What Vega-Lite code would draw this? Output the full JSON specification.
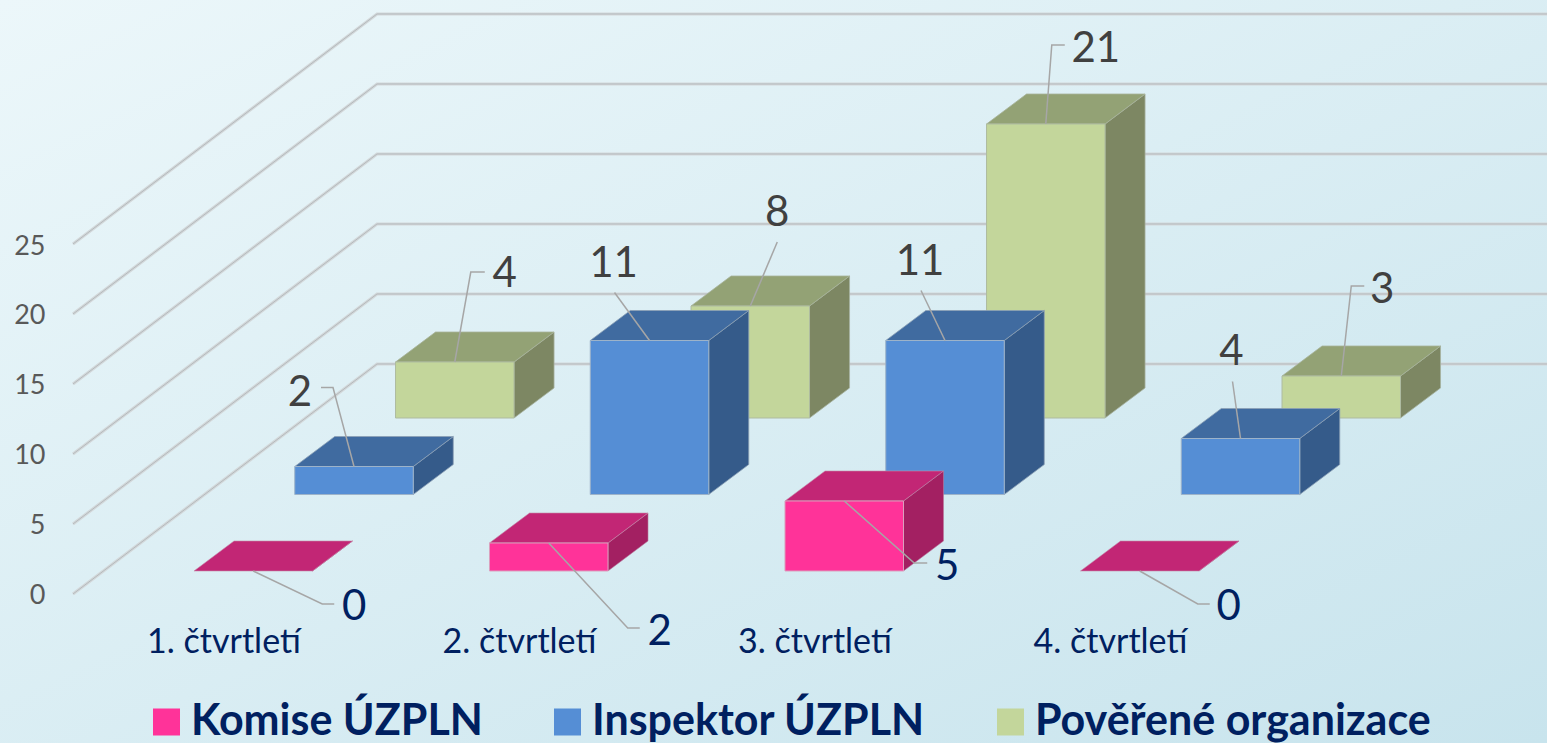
{
"$schema":"https://vega.github.io/schema/vega-lite/v6.json",
"width":1547,"height":743,"padding":0,"autosize":{"type":"none"},
"background":"#d9edf3",
"view":{"stroke":null,"fill":{"gradient":"linear","x1":0,"y1":0,"x2":1,"y2":1,"stops":[{"offset":0,"color":"#ecf7fa"},{"offset":1,"color":"#c8e4ed"}]}},
"config":{"font":"Lato"},
"data":{"values":[
{"q":1,"series":"Komise ÚZPLN","value":0},{"q":2,"series":"Komise ÚZPLN","value":2},{"q":3,"series":"Komise ÚZPLN","value":5},{"q":4,"series":"Komise ÚZPLN","value":0},
{"q":1,"series":"Inspektor ÚZPLN","value":2},{"q":2,"series":"Inspektor ÚZPLN","value":11},{"q":3,"series":"Inspektor ÚZPLN","value":11},{"q":4,"series":"Inspektor ÚZPLN","value":4},
{"q":1,"series":"Pověřené organizace","value":4},{"q":2,"series":"Pověřené organizace","value":8},{"q":3,"series":"Pověřené organizace","value":21},{"q":4,"series":"Pověřené organizace","value":3}
]},
"transform":[
{"calculate":"indexof(['Komise ÚZPLN','Inspektor ÚZPLN','Pověřené organizace'],datum.series)","as":"s"},
{"calculate":"datum.q+datum.s*0.341","as":"x0"},
{"calculate":"datum.x0+0.401","as":"x1"},
{"calculate":"1.643+datum.s*5.464","as":"y0"},
{"calculate":"datum.y0+datum.value","as":"y1"},
{"calculate":"datum.q+'-'+datum.s","as":"key"},
{"calculate":"{'1-0':[69,33,81,33,101,34],'1-1':[-21,-79,-33,-79,-54,-76],'1-2':[16,-90,30,-90,50,-90],'2-0':[79,85,91,85,111,87],'2-1':[-35,-48,-35,-48,-36,-79],'2-2':[27,-64,27,-64,27,-95],'3-0':[70,62,83,62,103,64],'3-1':[-24,-50,-24,-50,-25,-81],'3-2':[6,-79,19,-79,50,-77],'4-0':[58,33,70,33,89,34],'4-1':[-8,-57,-8,-57,-9,-89],'4-2':[10,-90,23,-90,41,-88]}[datum.key]","as":"off"},
{"calculate":"datum.x0+0.2005","as":"ax"},
{"calculate":"datum.ax+datum.off[4]/295.5","as":"labx"},
{"calculate":"datum.y1-datum.off[5]/14","as":"laby"}
],
"layer":[
{"data":{"values":[{"level":0},{"level":5},{"level":10},{"level":15},{"level":20},{"level":25}]},
 "transform":[{"calculate":"[0,1,2]","as":"t"},{"flatten":["t"]},{"calculate":"[0.5905,1.6193,5.5787][datum.t]","as":"gx"},{"calculate":"datum.level+(datum.t>0?16.43:0)","as":"gy"}],
 "mark":{"type":"line","color":"#d3d8da","strokeWidth":3.2,"clip":true},
 "encoding":{
  "x":{"field":"gx","type":"quantitative","scale":{"domain":[0.3435,5.5787],"nice":false,"zero":false},"axis":{"values":[1,2,3,4],"labelExpr":"datum.value+'. čtvrtletí'","title":null,"domain":false,"ticks":false,"grid":false,"labelFont":"Lato","labelFontSize":34,"labelColor":"#002060","labelOffset":29.5,"labelPadding":-101,"labelBaseline":"middle","labelFlush":false,"labelOverlap":false,"labelAlign":"center"}},
  "y":{"field":"gy","type":"quantitative","scale":{"domain":[-10.6429,42.4286],"nice":false,"zero":false},"axis":{"values":[0,5,10,15,20,25],"title":null,"domain":false,"ticks":false,"grid":false,"labelFont":"Lato","labelFontSize":27,"labelColor":"#595959","labelPadding":-45,"labelAlign":"right","labelBaseline":"middle","labelOffset":2,"labelFlush":false,"labelOverlap":false}},
  "detail":{"field":"level"},"order":{"field":"t"}}},
{"data":{"values":[{"level":0},{"level":5},{"level":10},{"level":15},{"level":20},{"level":25}]},
 "transform":[{"calculate":"[0,1,2]","as":"t"},{"flatten":["t"]},{"calculate":"[0.5905,1.6193,5.5787][datum.t]","as":"gx"},{"calculate":"datum.level+(datum.t>0?16.43:0)","as":"gy"}],
 "mark":{"type":"line","color":"#b4babd","strokeWidth":1},
 "encoding":{"x":{"field":"gx","type":"quantitative"},"y":{"field":"gy","type":"quantitative"},"detail":{"field":"level"},"order":{"field":"t"}}},

{"transform":[{"filter":"datum.s==2"},{"calculate":"[0,1]","as":"t"},{"flatten":["t"]},{"calculate":"datum.x1+datum.t*0.1354","as":"sx"},{"calculate":"datum.y0+datum.t*2.143","as":"sy0"},{"calculate":"datum.y1+datum.t*2.143","as":"sy1"}],
 "mark":{"type":"area","orient":"vertical","color":"#7d8763","stroke":"#a7b3a0","strokeWidth":0.8},
 "encoding":{"x":{"field":"sx","type":"quantitative"},"y":{"field":"sy0","type":"quantitative"},"y2":{"field":"sy1"},"detail":{"field":"key"}}},
{"transform":[{"filter":"datum.s==2"},{"calculate":"[0,1]","as":"t"},{"flatten":["t"]},{"calculate":"datum.x0+datum.t*0.1354","as":"ta"},{"calculate":"datum.x1+datum.t*0.1354","as":"tb"},{"calculate":"datum.y1+datum.t*2.143","as":"ty"}],
 "mark":{"type":"area","orient":"horizontal","color":"#93a275","stroke":"#a7b39a","strokeWidth":0.8},
 "encoding":{"y":{"field":"ty","type":"quantitative"},"x":{"field":"ta","type":"quantitative"},"x2":{"field":"tb"},"detail":{"field":"key"}}},
{"transform":[{"filter":"datum.s==2"}],
 "mark":{"type":"rect","stroke":"#aebba0","strokeWidth":1},
 "encoding":{"x":{"field":"x0","type":"quantitative"},"x2":{"field":"x1"},"y":{"field":"y0","type":"quantitative"},"y2":{"field":"y1"},
  "color":{"field":"series","type":"nominal","scale":{"domain":["Komise ÚZPLN","Inspektor ÚZPLN","Pověřené organizace"],"range":["#ff3399","#558ed5","#c3d69b"]},
   "legend":{"title":null,"orient":"none","legendX":145,"legendY":697,"direction":"horizontal","columns":3,"columnPadding":63,"symbolType":"square","symbolSize":729,"symbolStrokeWidth":0,"symbolOpacity":1,"labelFont":"Lato","labelFontSize":43,"labelFontWeight":"bold","labelColor":"#002060","labelOffset":3,"labelLimit":500,"padding":0,"rowPadding":0,"clipHeight":50}}}},

{"transform":[{"filter":"datum.s==1"},{"calculate":"[0,1]","as":"t"},{"flatten":["t"]},{"calculate":"datum.x1+datum.t*0.1354","as":"sx"},{"calculate":"datum.y0+datum.t*2.143","as":"sy0"},{"calculate":"datum.y1+datum.t*2.143","as":"sy1"}],
 "mark":{"type":"area","orient":"vertical","color":"#355b8a","stroke":"#8ba0b5","strokeWidth":0.8},
 "encoding":{"x":{"field":"sx","type":"quantitative"},"y":{"field":"sy0","type":"quantitative"},"y2":{"field":"sy1"},"detail":{"field":"key"}}},
{"transform":[{"filter":"datum.s==1"},{"calculate":"[0,1]","as":"t"},{"flatten":["t"]},{"calculate":"datum.x0+datum.t*0.1354","as":"ta"},{"calculate":"datum.x1+datum.t*0.1354","as":"tb"},{"calculate":"datum.y1+datum.t*2.143","as":"ty"}],
 "mark":{"type":"area","orient":"horizontal","color":"#406ba0","stroke":"#8ba0b5","strokeWidth":0.8},
 "encoding":{"y":{"field":"ty","type":"quantitative"},"x":{"field":"ta","type":"quantitative"},"x2":{"field":"tb"},"detail":{"field":"key"}}},
{"transform":[{"filter":"datum.s==1"}],
 "mark":{"type":"rect","stroke":"#9db3c9","strokeWidth":1},
 "encoding":{"x":{"field":"x0","type":"quantitative"},"x2":{"field":"x1"},"y":{"field":"y0","type":"quantitative"},"y2":{"field":"y1"},"color":{"field":"series","type":"nominal"}}},

{"transform":[{"filter":"datum.s==0"},{"calculate":"[0,1]","as":"t"},{"flatten":["t"]},{"calculate":"datum.x1+datum.t*0.1354","as":"sx"},{"calculate":"datum.y0+datum.t*2.143","as":"sy0"},{"calculate":"datum.y1+datum.t*2.143","as":"sy1"}],
 "mark":{"type":"area","orient":"vertical","color":"#a32062","stroke":"#b97a9c","strokeWidth":0.6},
 "encoding":{"x":{"field":"sx","type":"quantitative"},"y":{"field":"sy0","type":"quantitative"},"y2":{"field":"sy1"},"detail":{"field":"key"}}},
{"transform":[{"filter":"datum.s==0"},{"calculate":"[0,1]","as":"t"},{"flatten":["t"]},{"calculate":"datum.x0+datum.t*0.1354","as":"ta"},{"calculate":"datum.x1+datum.t*0.1354","as":"tb"},{"calculate":"datum.y1+datum.t*2.143","as":"ty"}],
 "mark":{"type":"area","orient":"horizontal","color":"#c22675","stroke":"#c58aa8","strokeWidth":0.6},
 "encoding":{"y":{"field":"ty","type":"quantitative"},"x":{"field":"ta","type":"quantitative"},"x2":{"field":"tb"},"detail":{"field":"key"}}},
{"transform":[{"filter":"datum.s==0&&datum.value>0"}],
 "mark":{"type":"rect","stroke":"#dba0be","strokeWidth":1},
 "encoding":{"x":{"field":"x0","type":"quantitative"},"x2":{"field":"x1"},"y":{"field":"y0","type":"quantitative"},"y2":{"field":"y1"},"color":{"field":"series","type":"nominal"}}},

{"transform":[{"calculate":"[0,1,2]","as":"t"},{"flatten":["t"]},{"calculate":"datum.ax+[0,datum.off[0],datum.off[2]][datum.t]/295.5","as":"lx"},{"calculate":"datum.y1-[0,datum.off[1],datum.off[3]][datum.t]/14","as":"ly"}],
 "mark":{"type":"line","color":"#a6a6a6","strokeWidth":1.5},
 "encoding":{"x":{"field":"lx","type":"quantitative"},"y":{"field":"ly","type":"quantitative"},"detail":{"field":"key"},"order":{"field":"t"}}},

{"transform":[{"filter":"datum.s==0"}],
 "mark":{"type":"text","font":"Lato","fontSize":42,"dy":2,"color":"#002060","align":"center","baseline":"middle"},
 "encoding":{"x":{"field":"labx","type":"quantitative"},"y":{"field":"laby","type":"quantitative"},"text":{"field":"value","type":"quantitative"}}},
{"transform":[{"filter":"datum.s>0"}],
 "mark":{"type":"text","font":"Lato","fontSize":42,"dy":2,"color":"#404040","align":"center","baseline":"middle"},
 "encoding":{"x":{"field":"labx","type":"quantitative"},"y":{"field":"laby","type":"quantitative"},"text":{"field":"value","type":"quantitative"}}}
]
}
